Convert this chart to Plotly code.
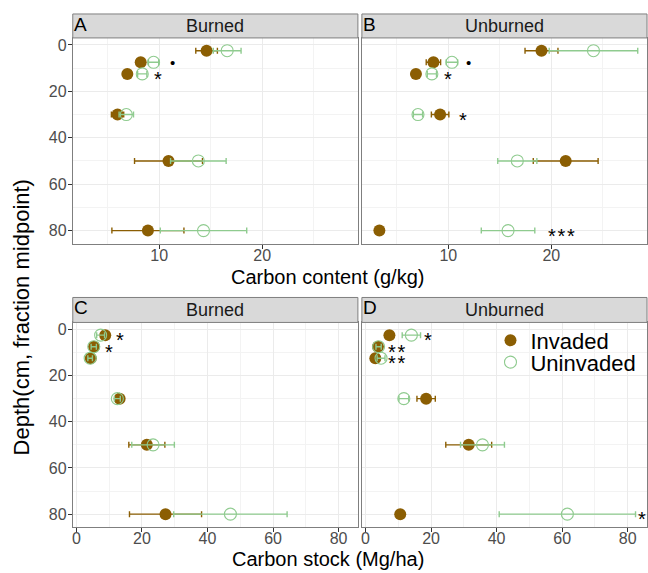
import plotly.graph_objects as go

# ---------------- data ----------------
depth = [2.5, 7.5, 12.5, 30, 50, 80]

# Carbon content (g/kg)
content_burned_inv = [14.6, 8.2, 6.9, 5.95, 10.9, 8.9]
content_burned_inv_se = [1.05, 0.3, 0.3, 0.6, 3.3, 3.5]
content_burned_uninv = [16.6, 9.45, 8.35, 6.8, 13.8, 14.3]
content_burned_uninv_se = [1.35, 0.5, 0.45, 0.7, 2.7, 4.2]

content_unburned_inv = [19.05, 8.55, 6.85, 9.2, 21.4, 3.3]
content_unburned_inv_se = [1.6, 0.7, 0.3, 0.85, 3.15, 0.2]
content_unburned_uninv = [24.1, 10.35, 8.4, 7.05, 16.7, 15.8]
content_unburned_uninv_se = [4.3, 0.55, 0.45, 0.45, 1.9, 2.6]

# Carbon stock (Mg/ha)
stock_burned_inv = [8.8, 5.4, 4.4, 13.2, 21.5, 27.2]
stock_burned_inv_se = [1.2, 0.6, 0.5, 1.2, 5.5, 11.0]
stock_burned_uninv = [7.4, 5.3, 4.2, 12.5, 23.4, 47.0]
stock_burned_uninv_se = [1.2, 0.8, 0.7, 0.9, 6.5, 17.3]

stock_unburned_inv = [7.3, 3.8, 3.0, 18.5, 31.5, 10.6]
stock_unburned_inv_se = [0.8, 0.5, 0.4, 2.8, 7.0, 0.8]
stock_unburned_uninv = [14.0, 4.0, 4.75, 11.7, 35.7, 61.6]
stock_unburned_uninv_se = [2.8, 0.8, 1.2, 1.5, 6.7, 20.8]

# significance labels: (label, x, depth)
sig_A = [("•", 11.3, 7.5), ("*", 9.85, 12.5)]
sig_B = [("•", 12.0, 7.5), ("*", 10.0, 12.5), ("*", 11.4, 30), ("***", 21.0, 80)]
sig_C = [("*", 13.4, 2.5), ("*", 9.95, 7.5)]
sig_D = [("*", 19.2, 2.5), ("**", 9.6, 7.5), ("**", 9.6, 12.5), ("*", 84.4, 80)]

panel_letters = ["A", "B", "C", "D"]
strip_labels = ["Burned", "Unburned", "Burned", "Unburned"]
series_names = ["Invaded", "Uninvaded"]
y_ticks = [0, 20, 40, 60, 80]
y_minor = [10, 30, 50, 70]
content_ticks = [10, 20]
content_minor = [5, 15, 25]
stock_ticks = [0, 20, 40, 60, 80]
stock_minor = [10, 30, 50, 70]

# ---------------- style ----------------
W, H = 648, 573
BROWN = "#8B5E03"
GREEN = "#8FCB8F"
FONT = "Liberation Sans, Arial, sans-serif"
FRAME = "#7F7F7F"
GRID = "#EBEBEB"
GRID_MINOR = "#F3F3F3"

def fx(p):
    return p / W

def fy(p):
    return 1 - p / H

# panel boxes in pixels: (left, right, top, bottom)
boxes = [(72, 358, 37, 243), (362, 648, 37, 243), (72, 358, 322, 527), (362, 648, 322, 527)]
strips = [(13, 37), (13, 37), (297, 322), (297, 322)]

panels = [
    (content_burned_inv, content_burned_inv_se, content_burned_uninv, content_burned_uninv_se, sig_A),
    (content_unburned_inv, content_unburned_inv_se, content_unburned_uninv, content_unburned_uninv_se, sig_B),
    (stock_burned_inv, stock_burned_inv_se, stock_burned_uninv, stock_burned_uninv_se, sig_C),
    (stock_unburned_inv, stock_unburned_inv_se, stock_unburned_uninv, stock_unburned_uninv_se, sig_D),
]

fig = go.Figure()
annotations = []
shapes = []

for i, (inv, inv_se, un, un_se, sig) in enumerate(panels):
    n = i + 1
    xa = "x" if n == 1 else f"x{n}"
    ya = "y" if n == 1 else f"y{n}"
    fig.add_trace(go.Scatter(
        x=inv, y=depth, xaxis=xa, yaxis=ya, mode="markers", name=series_names[0],
        legend="legend", showlegend=(n == 4),
        marker=dict(color=BROWN, size=12, line=dict(width=0)),
        error_x=dict(type="data", array=inv_se, visible=True, color=BROWN, thickness=1.4, width=3),
        cliponaxis=False,
    ))
    fig.add_trace(go.Scatter(
        x=un, y=depth, xaxis=xa, yaxis=ya, mode="markers", name=series_names[1],
        legend="legend2", showlegend=(n == 4),
        marker=dict(color=GREEN, size=12, symbol="circle-open",
                    line=dict(color=GREEN, width=1.1)),
        error_x=dict(type="data", array=un_se, visible=True, color=GREEN, thickness=1.4, width=3),
        cliponaxis=False,
    ))
    for lab, xv, dv in sig:
        if lab == "•":
            txt, size, ys = "•", 15, 0
        else:
            txt, size, ys = "\u200a".join(lab), 20, -5
        annotations.append(dict(
            x=xv, y=dv, xref=xa, yref=ya, text=txt, showarrow=False,
            font=dict(family=FONT, size=size, color="black"), yshift=ys,
            xanchor="center", yanchor="middle",
        ))

    l, r, t, b = boxes[i]
    st, sb = strips[i]
    shapes.append(dict(type="rect", xref="paper", yref="paper",
                       x0=fx(l), x1=fx(r), y0=fy(sb), y1=fy(st),
                       fillcolor="#D9D9D9", line=dict(color=FRAME, width=1), layer="above"))
    annotations.append(dict(x=fx((l + r) / 2), y=fy((st + sb) / 2), xref="paper", yref="paper",
                            text=strip_labels[i], showarrow=False,
                            font=dict(family=FONT, size=18, color="#1A1A1A"),
                            xanchor="center", yanchor="middle"))
    annotations.append(dict(x=fx(l - 1), y=fy(st - 2), xref="paper", yref="paper",
                            text=panel_letters[i], showarrow=False,
                            font=dict(family=FONT, size=19, color="black"),
                            xanchor="left", yanchor="top"))

leg_common = dict(xanchor="left", yanchor="middle",
                  font=dict(family=FONT, size=22, color="black"),
                  bgcolor="rgba(0,0,0,0)", itemwidth=30)

layout = dict(
    width=W, height=H,
    margin=dict(l=0, r=0, t=0, b=0),
    paper_bgcolor="white", plot_bgcolor="white",
    font=dict(family=FONT),
    showlegend=True,
    legend=dict(x=fx(491), y=fy(340), **leg_common),
    legend2=dict(x=fx(491), y=fy(362), **leg_common),
)

for i in range(4):
    n = i + 1
    l, r, t, b = boxes[i]
    xkey = "xaxis" if n == 1 else f"xaxis{n}"
    ykey = "yaxis" if n == 1 else f"yaxis{n}"
    xanchor = "y" if n == 1 else f"y{n}"
    yanchor = "x" if n == 1 else f"x{n}"
    if i < 2:
        xr, xt, xm = [1.6, 29.3], content_ticks, content_minor
    else:
        xr, xt, xm = [-1.1, 85.9], stock_ticks, stock_minor
    layout[xkey] = dict(
        domain=[fx(l), fx(r)], anchor=xanchor, range=xr,
        tickvals=xt, ticks="outside", ticklen=4, tickcolor="#333333", tickwidth=1,
        ticklabelstandoff=-7,
        tickfont=dict(family=FONT, size=16, color="#4D4D4D"),
        showgrid=True, gridcolor=GRID, gridwidth=1,
        minor=dict(tickvals=xm, showgrid=True, gridcolor=GRID_MINOR, gridwidth=0.7, ticks=""),
        showline=True, linecolor=FRAME, linewidth=1, mirror=True, zeroline=False,
    )
    layout[ykey] = dict(
        domain=[fy(b), fy(t)], anchor=yanchor, range=[85.6, -3.0],
        tickvals=y_ticks, ticks="outside" if i % 2 == 0 else "", ticklen=4,
        tickcolor="#333333", tickwidth=1, showticklabels=(i % 2 == 0),
        ticklabelstandoff=-2,
        tickfont=dict(family=FONT, size=16, color="#4D4D4D"),
        showgrid=True, gridcolor=GRID, gridwidth=1,
        minor=dict(tickvals=y_minor, showgrid=True, gridcolor=GRID_MINOR, gridwidth=0.7, ticks=""),
        showline=True, linecolor=FRAME, linewidth=1, mirror=True, zeroline=False,
    )

annotations.append(dict(x=fx(328), y=fy(276), xref="paper", yref="paper",
                        text="Carbon content (g/kg)", showarrow=False,
                        font=dict(family=FONT, size=20, color="black"),
                        xanchor="center", yanchor="middle"))
annotations.append(dict(x=fx(328), y=fy(559), xref="paper", yref="paper",
                        text="Carbon stock (Mg/ha)", showarrow=False,
                        font=dict(family=FONT, size=20, color="black"),
                        xanchor="center", yanchor="middle"))
annotations.append(dict(x=fx(21), y=fy(317), xref="paper", yref="paper",
                        text="Depth(cm, fraction midpoint)", showarrow=False, textangle=-90,
                        font=dict(family=FONT, size=22, color="black"),
                        xanchor="center", yanchor="middle"))

layout["annotations"] = annotations
layout["shapes"] = shapes
fig.update_layout(**layout)
fig.write_html("out.html", config={"displayModeBar": False},
               post_script="document.body.style.margin='0px';document.body.style.overflow='hidden';")
